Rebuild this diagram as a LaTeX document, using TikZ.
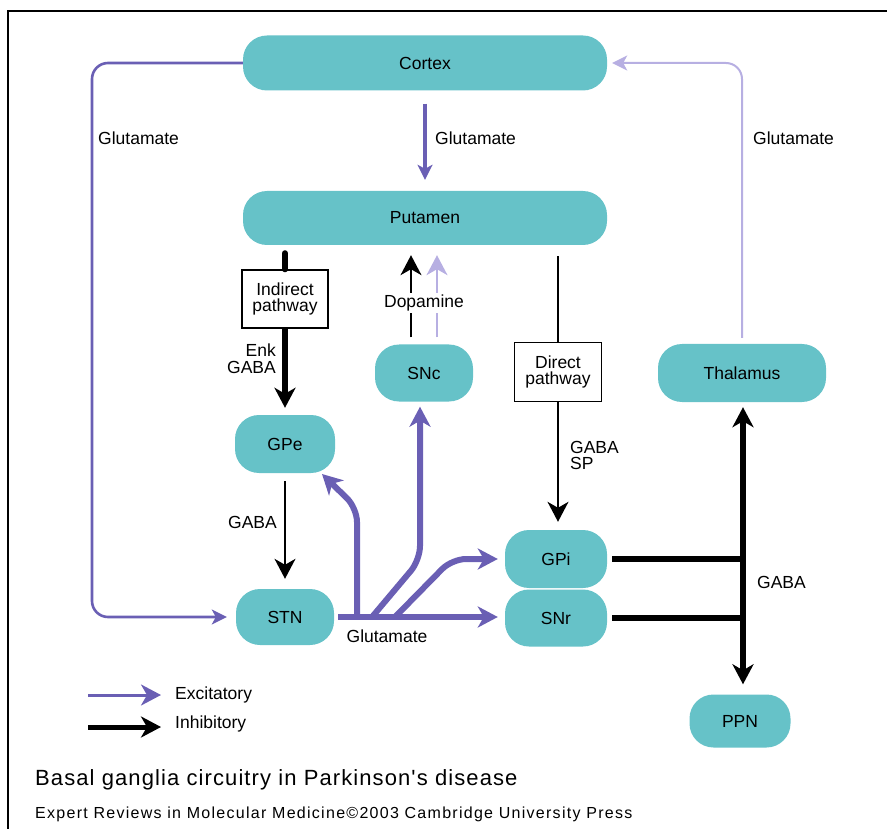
\documentclass[tikz,border=0pt]{standalone}
\usepackage{fontspec}
\setmainfont{Liberation Sans}
\newfontfamily\titlefont[LetterSpace=5]{Liberation Sans}
\newfontfamily\footfont[LetterSpace=8]{Liberation Sans}
\usetikzlibrary{arrows.meta,calc}
\definecolor{teal1}{HTML}{66C2C8}
\definecolor{purp}{HTML}{6A5FB4}
\definecolor{lpurp}{HTML}{B7AFE2}
\begin{document}
\begin{tikzpicture}[x=1pt,y=-1pt,
  region/.style={fill=teal1, rounded corners=24pt, inner sep=0pt, font=\fontsize{17.5}{19}\selectfont},
  pbox/.style={draw=black, line width=1.4pt, fill=white, inner sep=0pt, minimum width=86pt, minimum height=58pt, align=center, font=\fontsize{17.5}{19}\selectfont},
  lbl/.style={font=\fontsize{17.5}{18}\selectfont, inner sep=0pt},
  bigtip/.tip={Stealth[length=20pt,width=21pt,inset=6pt]},
  midtip/.tip={Stealth[length=15pt,width=15pt,inset=4pt]},
  exthick/.style={draw=purp, line width=6pt, -bigtip, rounded corners=14pt},
  inhthin/.style={draw=black, line width=1.5pt},
  inhthick/.style={draw=black, line width=6pt},
]
\useasboundingbox (0,0) rectangle (887,829);
% frame
\draw[line width=2.2pt] (8,829) -- (8,11) -- (887,11);

% regions
\node[region, minimum width=364pt, minimum height=55pt] (cortex) at (425,63) {Cortex};
\node[region, minimum width=364pt, minimum height=54pt] (putamen) at (425,218) {Putamen};
\node[region, minimum width=98pt, minimum height=57pt] (snc) at (424,373) {SNc};
\node[region, minimum width=100pt, minimum height=58pt] (gpe) at (285,444) {GPe};
\node[region, minimum width=98pt, minimum height=56pt] (stn) at (285,617) {STN};
\node[region, minimum width=102pt, minimum height=58pt] (gpi) at (556,559) {GPi};
\node[region, minimum width=102pt, minimum height=57pt] (snr) at (556,618) {SNr};
\node[region, minimum width=168pt, minimum height=58pt] (thal) at (742,373) {Thalamus};
\node[region, minimum width=101pt, minimum height=53pt] (ppn) at (740,721) {PPN};

% pathway boxes
\node[pbox] (indir) at (285,299) {Indirect\\[-3pt]pathway};
\node[pbox, minimum width=87pt, minimum height=59pt] (dir) at (558,372) {Direct\\[-3pt]pathway};

% Cortex -> STN loop (Glutamate)
\coordinate (lft) at (92,340);
\draw[draw=purp, line width=2.6pt, rounded corners=16pt, -midtip, shorten >=9pt]
  (cortex.west) -| (lft) |- (stn.west);
\node[lbl, anchor=west] at (98,138) {Glutamate};

% Cortex -> Putamen
\draw[draw=purp, line width=4pt, -midtip, shorten <=13pt, shorten >=11pt]
  (cortex.south) -- (putamen.north);
\node[lbl, anchor=west] at (435,138) {Glutamate};

% Thalamus -> Cortex
\draw[draw=lpurp, line width=2pt, rounded corners=16pt, -midtip, shorten <=6pt, shorten >=5pt]
  (thal.north) |- (cortex.east);
\node[lbl, anchor=west] at (753,138) {Glutamate};

% Indirect pathway
\draw[inhthick, line cap=round, shorten <=8pt] (putamen.south -| indir.north) -- (indir.north);
\draw[inhthick, -bigtip, shorten >=7pt] (indir.south) -- (gpe.north);
\node[lbl, anchor=east, align=right] at (276,359) {Enk\\[-1pt]GABA};

% Dopamine
\draw[inhthin, -bigtip, shorten <=7pt, shorten >=10pt]
  ([xshift=-13pt]snc.north) -- ([xshift=-13pt]snc.north |- putamen.south);
\draw[draw=lpurp, line width=1.5pt, -bigtip, shorten <=7pt, shorten >=10pt]
  ([xshift=13pt]snc.north) -- ([xshift=13pt]snc.north |- putamen.south);
\node[lbl, fill=white, inner sep=2pt] at (424,303) {Dopamine};

% Direct pathway
\draw[inhthin, shorten <=11pt] (putamen.south -| dir.north) -- (dir.north);
\draw[inhthin, -bigtip, shorten >=8pt] (dir.south) -- (dir.south |- gpi.north);
\node[lbl, anchor=west, align=left] at (570,455) {GABA\\[-2pt]SP};

% GPe -> STN
\draw[inhthin, -bigtip, shorten <=8pt, shorten >=10pt] (gpe.south) -- (gpe.south |- stn.north);
\node[lbl, anchor=east] at (277,522) {GABA};

% STN outputs (Glutamate)
\coordinate (s1) at (357,617);
\coordinate (s2) at (372,617);
\coordinate (s3) at (395,617);
\coordinate (k1) at (357,508);
\coordinate (gpetip) at (322,474);
\coordinate (k2) at (420,560);
\coordinate (k3) at (452,559);
\draw[exthick] (s1) -- (k1) -- (gpetip);
\draw[exthick, shorten >=5pt] (s2) -- (k2) -- (k2 |- snc.south);
\draw[exthick, shorten >=7pt] (s3) -- (k3) -- (gpi.west);
\draw[exthick, shorten <=4pt, shorten >=7pt] (stn.east) -- (stn.east -| snr.west);
\node[lbl] at (387,636) {Glutamate};

% GPi/SNr -> Thalamus / PPN
\coordinate (vx) at (743,559);
\draw[inhthick, shorten <=5pt] (gpi.east) -- (gpi.east -| vx);
\draw[inhthick, shorten <=5pt] (snr.east) -- (snr.east -| vx);
\draw[inhthick, bigtip-bigtip, shorten <=5pt, shorten >=10pt]
  (thal.south -| vx) -- (ppn.north -| vx);
\node[lbl, anchor=west] at (757,582) {GABA};

% Legend
\coordinate (e1) at (88,695);
\coordinate (e2) at (161,695);
\coordinate (i1) at (88,727);
\coordinate (i2) at (161,727);
\draw[draw=purp, line width=3pt, -bigtip] (e1) -- (e2);
\draw[draw=black, line width=5pt, -bigtip] (i1) -- (i2);
\node[lbl, anchor=west] at (175,695) {Excitatory};
\node[lbl, anchor=west] at (175,724) {Inhibitory};

% Caption
\node[anchor=base west, inner sep=0pt, font=\fontsize{22}{24}\selectfont\titlefont] at (35,785) {Basal ganglia circuitry in Parkinson's disease};
\node[anchor=base west, inner sep=0pt, font=\fontsize{16}{18}\selectfont\footfont] at (35,818) {Expert Reviews in Molecular Medicine\textcopyright 2003 Cambridge University Press};
\end{tikzpicture}
\end{document}
